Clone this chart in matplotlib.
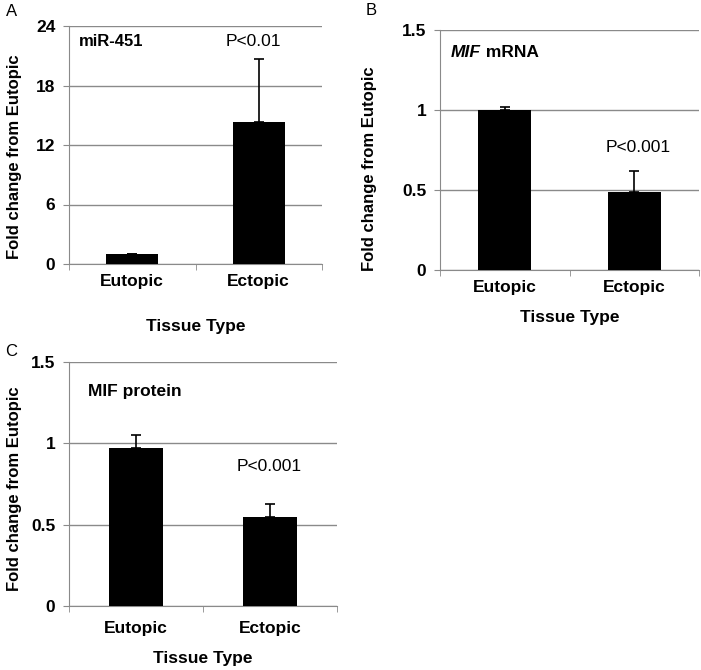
import numpy as np
import matplotlib
matplotlib.use("Agg")
import matplotlib.pyplot as plt

plt.rcParams['font.family'] = ['Liberation Sans', 'DejaVu Sans']

categories = ["Eutopic", "Ectopic"]

# panel A: miR-451
mir_mean = [1.0, 14.35]
mir_err = [0.05, 6.35]
mir_ticks = [0, 6, 12, 18, 24]

# panel B: MIF mRNA
mrna_mean = [1.0, 0.488]
mrna_err = [0.02, 0.133]

# panel C: MIF protein
prot_mean = [0.973, 0.549]
prot_err = [0.076, 0.080]

frac_ticks = [0, 0.5, 1, 1.5]
frac_labels = ["0", "0.5", "1", "1.5"]

GRAY = "#8a8a8a"
W, H = 701, 670


def px_axes(fig, left, top, right, bottom):
    return fig.add_axes([left / W, (H - bottom) / H, (right - left) / W, (bottom - top) / H])


def bar_panel(ax, means, errs, ticks, ticklabels, width, ylab, xlab, xpad):
    x = np.arange(len(categories))
    ax.bar(x, means, width=width, color="black", zorder=3)
    ax.errorbar(x, means, yerr=[np.zeros(len(errs)), errs], fmt="none",
                ecolor="black", elinewidth=1.2, capsize=3.5, capthick=1.2, zorder=4)
    ax.set_xlim(-0.5, 1.5)
    ax.set_ylim(ticks[0], ticks[-1])
    ax.set_yticks(ticks)
    ax.set_yticklabels(ticklabels, fontweight="bold", fontsize=12.5)
    ax.set_xticks(x)
    ax.set_xticklabels(categories, fontweight="bold", fontsize=12.5)
    ax.set_xticks([-0.5, 0.5, 1.5], minor=True)
    ax.tick_params(axis="x", which="major", length=0, pad=xpad)
    ax.tick_params(axis="x", which="minor", length=4, color=GRAY, direction="out")
    ax.tick_params(axis="y", length=4.3, color=GRAY, pad=5.5)
    for s in ["top", "right"]:
        ax.spines[s].set_visible(False)
    for s in ["left", "bottom"]:
        ax.spines[s].set_color(GRAY)
    ax.yaxis.grid(True, color=GRAY, lw=1, zorder=0)
    ax.set_axisbelow(True)
    ax.set_ylabel("Fold change from Eutopic", fontweight="bold", fontsize=12)
    ax.set_xlabel("Tissue Type", fontweight="bold", fontsize=12.5)
    ax.yaxis.set_label_coords(*ylab)
    ax.xaxis.set_label_coords(*xlab)


fig = plt.figure(figsize=(W / 100, H / 100), dpi=100)

# A
axA = px_axes(fig, 69, 26, 322, 264)
bar_panel(axA, mir_mean, mir_err, mir_ticks, [str(t) for t in mir_ticks], 0.41,
          (-0.186, 0.45), (0.5, -0.231), 7.5)
axA.text(-0.42, 22.0, "miR-451", fontweight="bold", fontsize=12, va="baseline", ha="left")
axA.text(0.955, 22.0, "P<0.01", fontsize=12.5, va="baseline", ha="center")

# B
axB = px_axes(fig, 440, 30, 699, 270)
bar_panel(axB, mrna_mean, mrna_err, frac_ticks, frac_labels, 0.41,
          (-0.244, 0.423), (0.5, -0.167), 7.5)
t = axB.text(-0.415, 1.329, "MIF", fontweight="bold", style="italic", fontsize=12.5,
             va="baseline", ha="left")
axB.annotate(" mRNA", xy=(1, 0), xycoords=t, fontweight="bold", fontsize=12.5,
             va="bottom", ha="left")
axB.text(1.029, 0.739, "P<0.001", fontsize=12.5, va="baseline", ha="center")

# C
axC = px_axes(fig, 69, 362, 337, 606)
bar_panel(axC, prot_mean, prot_err, frac_ticks, frac_labels, 0.40,
          (-0.176, 0.48), (0.5, -0.184), 10.5)
axC.text(-0.358, 1.293, "MIF protein", fontweight="bold", fontsize=12.5, va="baseline", ha="left")
axC.text(0.995, 0.83, "P<0.001", fontsize=12.5, va="baseline", ha="center")

# panel letters
fig.text(12 / W, 1 - 11.5 / H, "A", fontsize=12, ha="center", va="center")
fig.text(371 / W, 1 - 10.5 / H, "B", fontsize=12, ha="center", va="center")
fig.text(11 / W, 1 - 351 / H, "C", fontsize=12, ha="center", va="center")

fig.savefig("out.png", dpi=100)
